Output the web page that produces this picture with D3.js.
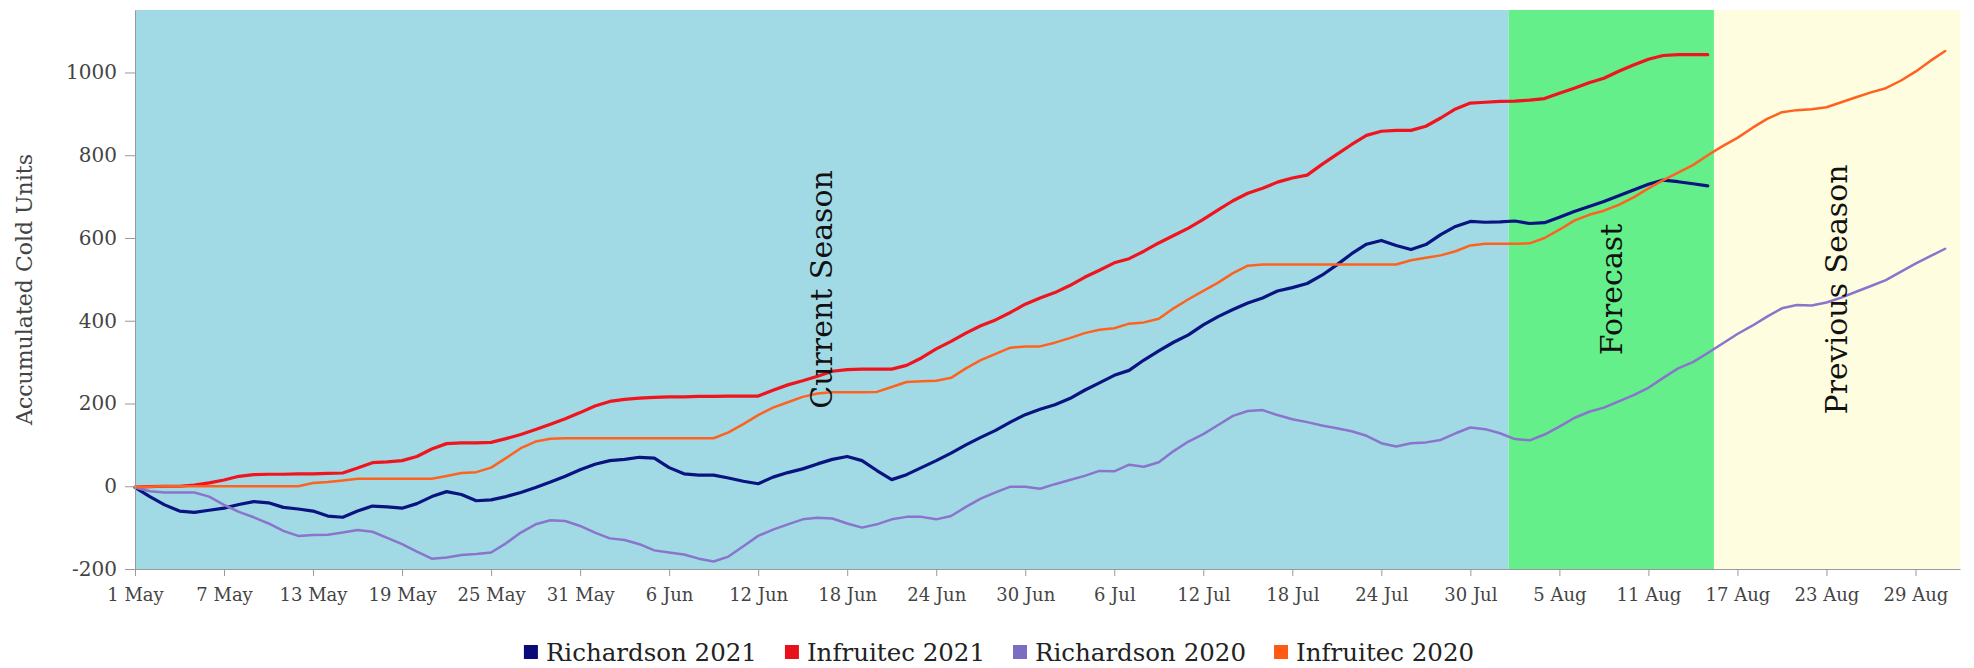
<!DOCTYPE html>
<html>
<head>
<meta charset="utf-8">
<script src="https://cdn.jsdelivr.net/npm/d3@7"></script>
<style>
  html, body { margin: 0; padding: 0; background: #ffffff; }
  svg { display: block; }
  text { font-family: "DejaVu Serif", serif; }
</style>
</head>
<body>
<svg id="chart" width="1974" height="668"></svg>
<script>
// ---------------- DATA ----------------
const seasonStart = "2021-05-01";
const axisEnd = "2021-09-01";

const tickDates = ["2021-05-01","2021-05-07","2021-05-13","2021-05-19","2021-05-25","2021-05-31",
  "2021-06-06","2021-06-12","2021-06-18","2021-06-24","2021-06-30","2021-07-06","2021-07-12",
  "2021-07-18","2021-07-24","2021-07-30","2021-08-05","2021-08-11","2021-08-17","2021-08-23","2021-08-29"];
const yTicks = [-200, 0, 200, 400, 600, 800, 1000];

const regionNames = ["Current Season", "Forecast", "Previous Season"];
const regionStarts = ["2021-05-01T00:00", "2021-08-01T14:00", "2021-08-15T10:00"];
const regionEnds = ["2021-08-01T14:00", "2021-08-15T10:00", "2021-09-01T00:00"];
const regionColors = ["#a1dae5", "#64ef8b", "#fffde0"];

const seriesNames = ["Richardson 2021", "Infruitec 2021", "Richardson 2020", "Infruitec 2020"];
const seriesColors = ["#0a1480", "#f0141e", "#8a74cc", "#ff621e"];
const seriesLegendColors = ["#0a0a78", "#e8101a", "#7b6cc4", "#ff5a14"];
const seriesWidths = [3.2, 3.2, 2.5, 2.5];

// daily values from 1 May
const richardson2021 = [-3,-25,-45,-60,-63,-58,-53,-44,-37,-40,
 -51,-55,-60,-72,-75,-60,-48,-50,-53,-42,
 -25,-13,-20,-35,-33,-25,-15,-3,10,24,
 40,53,62,65,70,68,45,30,27,27,
 20,12,6,22,33,42,54,65,72,62,
 38,16,28,45,62,80,100,118,135,155,
 173,186,197,212,232,250,268,280,305,327,
 348,366,390,410,427,443,455,472,480,490,
 510,535,562,585,594,582,572,584,608,628,
 640,638,639,641,635,637,650,664,676,688,
 702,716,730,740,736,731,726];

const infruitec2021 = [-2,-1,0,0,3,8,15,24,28,29,
 29,30,30,31,32,44,57,59,62,72,
 90,103,105,105,106,115,125,137,150,163,
 178,194,205,210,213,215,216,216,217,217,
 218,218,218,232,245,255,266,278,282,283,
 283,283,292,310,332,350,370,388,402,420,
 440,455,468,485,505,522,540,550,568,588,
 606,624,645,668,690,708,720,735,745,752,
 778,802,826,848,858,860,860,870,890,912,
 926,928,930,931,933,937,950,962,975,986,
 1003,1018,1032,1041,1043,1043,1043];

const richardson2020 = [-3,-12,-15,-15,-15,-25,-45,-62,-75,-90,
 -108,-120,-118,-117,-112,-106,-110,-125,-140,-158,
 -175,-172,-166,-164,-160,-138,-112,-92,-82,-84,
 -96,-112,-126,-130,-140,-155,-160,-165,-175,-182,
 -170,-145,-120,-105,-92,-80,-76,-78,-90,-100,
 -92,-80,-74,-74,-80,-72,-50,-30,-15,-1,
 -1,-6,5,15,25,37,36,52,47,58,
 85,108,126,148,170,182,184,172,162,155,
 147,140,133,122,104,96,104,106,112,128,
 142,138,128,114,111,125,144,165,180,190,
 205,220,238,262,285,300,322,345,368,388,
 410,430,438,437,444,456,470,484,498,518,
 538,556,574];

const infruitec2020 = [-2,-1,0,0,0,0,0,0,0,0,
 0,0,8,10,14,18,18,18,18,18,
 18,25,32,34,45,68,92,108,115,116,
 116,116,116,116,116,116,116,116,116,116,
 130,150,172,190,203,216,224,227,227,227,
 228,240,252,254,255,262,285,305,320,335,
 338,338,347,358,370,378,382,393,396,405,
 430,452,472,492,515,533,536,536,536,536,
 536,536,536,536,536,536,546,552,558,568,
 582,586,586,586,587,600,620,642,656,666,
 680,698,720,740,758,776,800,822,842,866,
 888,904,909,911,916,928,940,952,962,980,
 1002,1028,1052];

const seriesValues = [richardson2021, infruitec2021, richardson2020, infruitec2020];

// ---------------- CHART ----------------
(function () {
const FONT = "DejaVu Serif";
const svg = d3.select("#chart");
const parse = d3.isoParse;
const pLeft = 135, pRight = 1960, pTop = 10, pBottom = 569;

const x = d3.scaleTime()
  .domain([parse(seasonStart), parse(axisEnd)])
  .range([pLeft, pRight]);
const y = d3.scaleLinear()
  .domain([-200, 1151])
  .range([pBottom, pTop]);

// region backgrounds
const regions = regionNames.map((n, i) => ({
  name: n, start: parse(regionStarts[i]), end: parse(regionEnds[i]), color: regionColors[i]
}));
svg.append("g").selectAll("rect").data(regions).join("rect")
  .attr("x", d => x(d.start))
  .attr("y", pTop)
  .attr("width", d => x(d.end) - x(d.start))
  .attr("height", pBottom - pTop)
  .attr("fill", d => d.color);

// lines
const start = parse(seasonStart);
const series = seriesNames.map((n, i) => ({
  name: n,
  color: seriesColors[i],
  width: seriesWidths[i],
  values: seriesValues[i].map((v, k) => ({ date: d3.timeDay.offset(start, k), value: v }))
}));
const line = d3.line().x(d => x(d.date)).y(d => y(d.value));
svg.append("g").selectAll("path").data(series).join("path")
  .attr("d", d => line(d.values))
  .attr("fill", "none")
  .attr("stroke", d => d.color)
  .attr("stroke-width", d => d.width)
  .attr("stroke-linejoin", "round")
  .attr("stroke-linecap", "round");

// axes
const xAxis = d3.axisBottom(x)
  .tickValues(tickDates.map(parse))
  .tickFormat(d3.timeFormat("%-d %b"))
  .tickSize(7).tickSizeOuter(0).tickPadding(12);
const gx = svg.append("g").attr("transform", `translate(0,${pBottom})`).call(xAxis)
  .attr("font-family", FONT);
gx.selectAll("text").attr("font-size", 18).attr("fill", "#444").attr("font-family", FONT);
gx.selectAll("line").attr("stroke", "#999");
gx.select(".domain").attr("stroke", "#999");

const yAxis = d3.axisLeft(y).tickValues(yTicks).tickFormat(d => String(d))
  .tickSize(10).tickSizeOuter(0).tickPadding(8);
const gy = svg.append("g").attr("transform", `translate(${pLeft},0)`).call(yAxis)
  .attr("font-family", FONT);
gy.selectAll("text").attr("font-size", 20).attr("fill", "#444").attr("font-family", FONT);
gy.selectAll("line").attr("stroke", "#999");
gy.select(".domain").attr("stroke", "#999");

// y axis title
svg.append("text")
  .attr("transform", `translate(24,${(pTop + pBottom) / 2}) rotate(-90)`)
  .attr("text-anchor", "middle")
  .attr("dominant-baseline", "central")
  .attr("font-family", FONT)
  .attr("font-size", 22)
  .attr("fill", "#444")
  .text("Accumulated Cold Units");

// region labels
svg.append("g").selectAll("text").data(regions).join("text")
  .attr("transform", d => `translate(${(x(d.start) + x(d.end)) / 2},${(pTop + pBottom) / 2}) rotate(-90)`)
  .attr("text-anchor", "middle")
  .attr("dominant-baseline", "central")
  .attr("font-family", FONT)
  .attr("font-size", 30)
  .attr("fill", "#111")
  .text(d => d.name);

// legend
const legend = svg.append("g");
let cursor = 0;
const sq = 14, gapSq = 8, gapItem = 28;
seriesNames.forEach((n, i) => {
  const g = legend.append("g").attr("transform", `translate(${cursor},0)`);
  g.append("rect").attr("x", 0).attr("y", -sq / 2).attr("width", sq).attr("height", sq)
    .attr("fill", seriesLegendColors[i]);
  const t = g.append("text").attr("x", sq + gapSq).attr("y", 0)
    .attr("dominant-baseline", "central")
    .attr("font-family", FONT)
    .attr("font-size", 24.5).attr("fill", "#222").text(n);
  cursor += sq + gapSq + t.node().getComputedTextLength() + gapItem;
});
const totalW = cursor - gapItem;
legend.attr("transform", `translate(${999 - totalW / 2},652)`);
})();
</script>
</body>
</html>
